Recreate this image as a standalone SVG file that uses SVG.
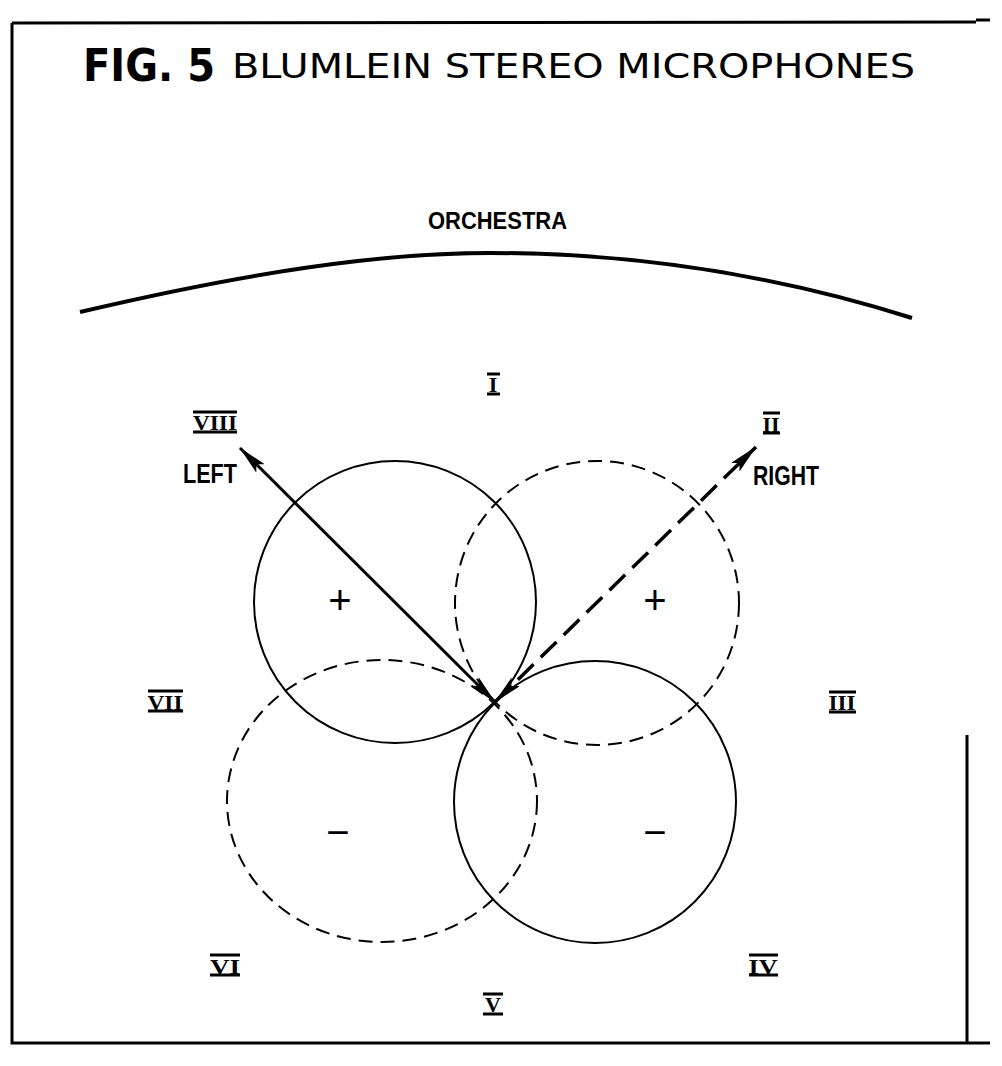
<svg xmlns="http://www.w3.org/2000/svg" width="1002" height="1066" viewBox="0 0 1002 1066">
<style>
.bg{fill:#fff}
.frame{stroke:#000;stroke-width:3;fill:none}
.lobe{stroke:#000;stroke-width:2;fill:none}
.dash{stroke-dasharray:14 8}
.num{font-family:"Liberation Serif",serif;font-weight:bold;font-size:22px;fill:#000;text-anchor:middle}
.bar{stroke:#000;stroke-width:3}
.lbl{font-family:"Liberation Sans Narrow","Liberation Sans",sans-serif;font-weight:bold;fill:#000}
.sign{font-family:"Liberation Sans",sans-serif;font-size:40px;fill:#000;text-anchor:middle}
.title{font-family:"DejaVu Sans","Liberation Sans",sans-serif;fill:#000}
</style>
<defs>
<marker id="ah" viewBox="0 0 30 12" refX="29" refY="6" markerWidth="30" markerHeight="12" markerUnits="userSpaceOnUse" orient="auto-start-reverse">
<path d="M0,0 L30,6 L0,12 L6,6 Z" fill="#000"/>
</marker>
</defs>
<rect class="bg" x="0" y="0" width="1002" height="1066"/>
<g id="frame">
<path class="frame" d="M12,23 L976,22 M976,20 L990,20 M12,23 L12,1043 L990,1043 M967,735 L967,1043"/>
</g>
<g id="title">
<text class="title" x="83" y="81" font-size="44" font-weight="bold" textLength="132" lengthAdjust="spacingAndGlyphs">FIG. 5</text>
<text class="title" x="232" y="78" font-size="33" textLength="683" lengthAdjust="spacingAndGlyphs">BLUMLEIN STEREO MICROPHONES</text>
</g>
<g id="orchestra">
<path d="M80,312 C250,272 380,253 490,253 C620,253 760,270 912,318" stroke="#000" stroke-width="4" fill="none"/>
<text class="lbl" x="428" y="229" font-size="24" textLength="139" lengthAdjust="spacingAndGlyphs">ORCHESTRA</text>
</g>
<g id="left-lobe-plus"><circle class="lobe" cx="395" cy="602" r="141"/><text class="sign" x="340" y="614">+</text></g>
<g id="left-lobe-minus"><circle class="lobe" cx="595" cy="802" r="141"/><text class="sign" x="655" y="846">−</text></g>
<g id="right-lobe-plus"><circle class="lobe dash" cx="597" cy="603" r="142"/><text class="sign" x="655" y="614">+</text></g>
<g id="right-lobe-minus"><ellipse class="lobe dash" cx="382" cy="801" rx="155" ry="141"/><text class="sign" x="338" y="846">−</text></g>
<g id="connectors">
<line x1="495" y1="702" x2="240" y2="448" stroke="#000" stroke-width="3" marker-start="url(#ah)" marker-end="url(#ah)"/>
<line x1="495" y1="702" x2="756" y2="447" stroke="#000" stroke-width="3.5" stroke-dasharray="22 10" marker-start="url(#ah)" marker-end="url(#ah)"/>
</g>
<g id="label-left"><text class="lbl" x="183" y="483" font-size="28" textLength="54" lengthAdjust="spacingAndGlyphs">LEFT</text></g>
<g id="label-right"><text class="lbl" x="753" y="485" font-size="28" textLength="66" lengthAdjust="spacingAndGlyphs">RIGHT</text></g>
<g id="n1"><text class="num" x="493" y="392">I</text><path class="bar" d="M487,374 H500 M487,394 H500"/></g>
<g id="n2"><text class="num" x="771" y="432">II</text><path class="bar" d="M763,413 H780 M763,433 H780"/></g>
<g id="n3"><text class="num" x="842" y="710" textLength="27" lengthAdjust="spacingAndGlyphs">III</text><path class="bar" d="M829,692 H856 M829,712 H856"/></g>
<g id="n4"><text class="num" x="763" y="974" textLength="29" lengthAdjust="spacingAndGlyphs">IV</text><path class="bar" d="M749,955 H778 M749,975 H778"/></g>
<g id="n5"><text class="num" x="493" y="1012">V</text><path class="bar" d="M483,994 H503 M483,1014 H503"/></g>
<g id="n6"><text class="num" x="225" y="974" textLength="30" lengthAdjust="spacingAndGlyphs">VI</text><path class="bar" d="M210,955 H240 M210,975 H240"/></g>
<g id="n7"><text class="num" x="165" y="710" textLength="35" lengthAdjust="spacingAndGlyphs">VII</text><path class="bar" d="M148,691 H183 M148,711 H183"/></g>
<g id="n8"><text class="num" x="215" y="430" textLength="44" lengthAdjust="spacingAndGlyphs">VIII</text><path class="bar" d="M193,412 H237 M193,432 H237"/></g>
</svg>
